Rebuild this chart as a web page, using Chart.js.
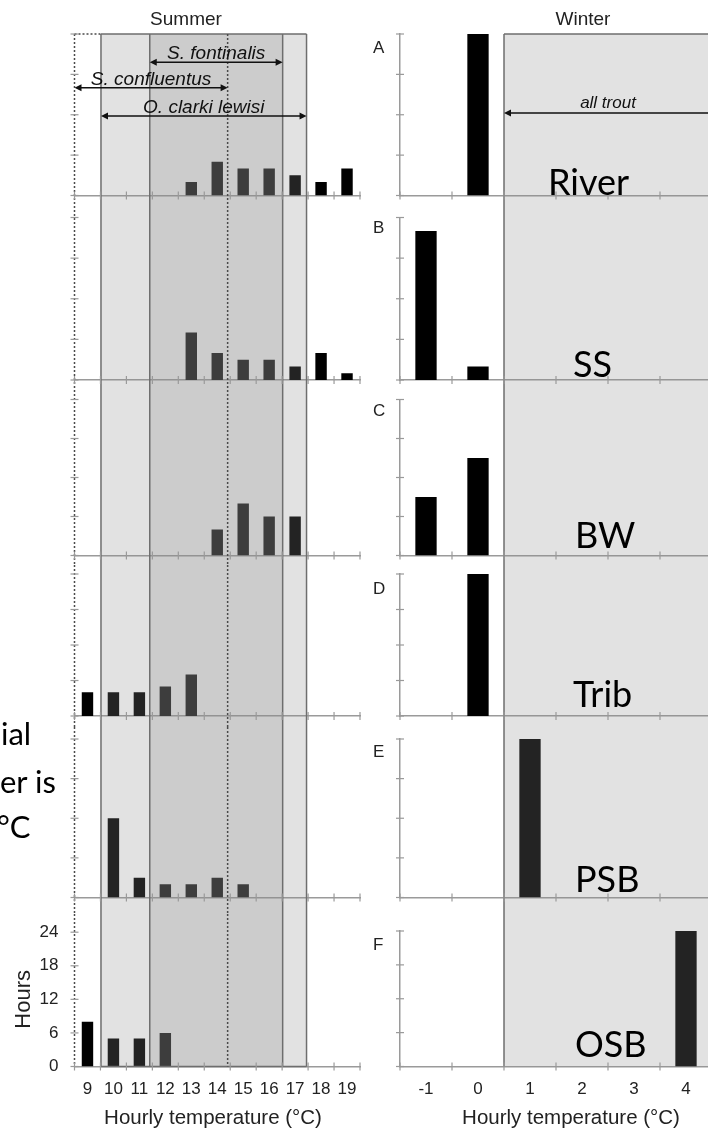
<!DOCTYPE html>
<html>
<head>
<meta charset="utf-8">
<script src="https://cdn.jsdelivr.net/npm/chart.js@4.4.1/dist/chart.umd.min.js"></script>
<style>
  html, body { margin: 0; padding: 0; background: #fff; overflow: hidden; }
  #page { position: relative; width: 708px; height: 1132px; overflow: hidden; background: #fff; }
  #page canvas { position: absolute; }
  .t { position: absolute; white-space: nowrap; line-height: 1; color: #000; }
  .ax { font-family: 'Liberation Sans', Arial, Helvetica, sans-serif; color: #222; }
  .big { font-family: Lato, 'Open Sans', sans-serif; }
</style>
</head>
<body>
<div id="page"></div>
<script>
// ---- data: hours spent at each hourly temperature (one day = 24 h) ----
const summerTemps = ['9', '10', '11', '12', '13', '14', '15', '16', '17', '18', '19'];
const winterTemps = ['-1', '0', '1', '2', '3', '4'];
const sites = ['River', 'SS', 'BW', 'Trib', 'PSB', 'OSB'];
const panelLetters = ['A', 'B', 'C', 'D', 'E', 'F'];
const hourTicks = [0, 6, 12, 18, 24];

const summerRiver = [null, null, null, null, 2, 5, 4, 4, 3, 2, 4];
const summerSS    = [null, null, null, null, 7, 4, 3, 3, 2, 4, 1];
const summerBW    = [null, null, null, null, null, 4, 8, 6, 6, null, null];
const summerTrib  = [4, 4, 4, 5, 7, null, null, null, null, null, null];
const summerPSB   = [null, 12, 3, 2, 2, 3, 2, null, null, null, null];
const summerOSB   = [8, 5, 5, 6, null, null, null, null, null, null, null];

const winterRiver = [null, 24, null, null, null, null];
const winterSS    = [22, 2, null, null, null, null];
const winterBW    = [9, 15, null, null, null, null];
const winterTrib  = [null, 24, null, null, null, null];
const winterPSB   = [null, null, 24, null, null, null];
const winterOSB   = [null, null, null, null, null, 24];

// thermal ranges (°C)
const rangeLewisi = [9.52, 17.44];
const rangeFontinalis = [11.4, 16.52];
const rangeConfluentus = [8.5, 14.4];
const winterTroutMin = 0.5;

const summerSeries = [summerRiver, summerSS, summerBW, summerTrib, summerPSB, summerOSB];
const winterSeries = [winterRiver, winterSS, winterBW, winterTrib, winterPSB, winterOSB];

// ---- layout ----
const AXFONT = "'Liberation Sans', Arial, Helvetica, sans-serif";
const rows = [
  { top: 0,   h: 206, caTop: 34,    caBot: 195.5 },
  { top: 206, h: 184, caTop: 217.5, caBot: 380 },
  { top: 390, h: 175, caTop: 399.5, caBot: 555.5 },
  { top: 565, h: 162, caTop: 574,   caBot: 716 },
  { top: 727, h: 187, caTop: 739,   caBot: 897.5 },
  { top: 914, h: 218, caTop: 931,   caBot: 1066.5 }
];
const summerCol = { left: 0,   w: 372, caLeft: 74.5, caRight: 360 };
const winterCol = { left: 362, w: 360, caLeft: 400,  caRight: 712 };

const SHADE = 'rgba(140,140,140,0.25)';
const EDGE = '#6e6e6e';
const AXIS = '#9a9a9a';

function seg(ctx, x1, y1, x2, y2) {
  ctx.beginPath(); ctx.moveTo(x1, y1); ctx.lineTo(x2, y2); ctx.stroke();
}
function head(ctx, x, y, dir) {
  ctx.beginPath();
  ctx.moveTo(x, y);
  ctx.lineTo(x - dir * 7, y - 3.5);
  ctx.lineTo(x - dir * 7, y + 3.5);
  ctx.closePath();
  ctx.fill();
}
function crossTicks(chart) {
  const { ctx, chartArea: ca, scales: { x, y } } = chart;
  ctx.save();
  ctx.strokeStyle = AXIS; ctx.lineWidth = 1.2;
  const n = chart.data.labels.length;
  for (let i = 0; i <= n; i++) {
    const xp = x.getPixelForValue(i - 0.5);
    seg(ctx, xp, ca.bottom - 4, xp, ca.bottom + 4);
  }
  y.ticks.forEach(t => {
    const yp = y.getPixelForValue(t.value);
    seg(ctx, ca.left - 4, yp, ca.left + 4, yp);
  });
  ctx.restore();
}

// temperature bands, S. confluentus dotted box, and range arrows (summer)
function summerPlugin(r) {
  return {
    id: 'summerRanges',
    afterDatasetsDraw(chart) {
      const { ctx, chartArea: ca, scales: { x } } = chart;
      const top = r === 0 ? ca.top : 0;
      const bot = r === rows.length - 1 ? ca.bottom : chart.height;
      const px = t => x.getPixelForValue(t - 9);
      ctx.save();
      ctx.fillStyle = SHADE;
      [rangeLewisi, rangeFontinalis].forEach(b => ctx.fillRect(px(b[0]), top, px(b[1]) - px(b[0]), bot - top));
      ctx.strokeStyle = EDGE; ctx.lineWidth = 1.5;
      [rangeLewisi[0], rangeLewisi[1], rangeFontinalis[0], rangeFontinalis[1]].forEach(t => seg(ctx, px(t), top, px(t), bot));
      if (r === 0) seg(ctx, px(rangeLewisi[0]), top, px(rangeLewisi[1]), top);
      if (r === rows.length - 1) seg(ctx, px(rangeLewisi[0]), bot, px(rangeLewisi[1]), bot);
      ctx.strokeStyle = '#4a4a4a'; ctx.lineWidth = 1.5; ctx.setLineDash([2, 2]);
      seg(ctx, px(rangeConfluentus[0]), top, px(rangeConfluentus[0]), bot);
      seg(ctx, px(rangeConfluentus[1]), top, px(rangeConfluentus[1]), bot);
      if (r === 0) seg(ctx, px(rangeConfluentus[0]), top, px(rangeLewisi[0]), top);
      ctx.restore();
    },
    afterDraw(chart) {
      crossTicks(chart);
      if (r !== 0) return;
      const { ctx, scales: { x, y } } = chart;
      const px = t => x.getPixelForValue(t - 9);
      const arrows = [
        { name: 'S. fontinalis', range: rangeFontinalis, at: 19.8 },
        { name: 'S. confluentus', range: rangeConfluentus, at: 16.0 },
        { name: 'O. clarki lewisi', range: rangeLewisi, at: 11.8 }
      ];
      ctx.save();
      ctx.strokeStyle = '#111'; ctx.fillStyle = '#111'; ctx.lineWidth = 1.5;
      ctx.font = 'italic 19px ' + AXFONT;
      ctx.textAlign = 'center'; ctx.textBaseline = 'alphabetic';
      arrows.forEach(a => {
        const x1 = px(a.range[0]), x2 = px(a.range[1]), yp = y.getPixelForValue(a.at);
        seg(ctx, x1 + 3, yp, x2 - 3, yp);
        head(ctx, x1, yp, -1);
        head(ctx, x2, yp, 1);
        ctx.fillText(a.name, (x1 + x2) / 2, yp - 3);
      });
      ctx.restore();
    }
  };
}

// winter band where all trout species are within range
function winterPlugin(r) {
  return {
    id: 'winterRange',
    afterDatasetsDraw(chart) {
      const { ctx, chartArea: ca, scales: { x } } = chart;
      const top = r === 0 ? ca.top : 0;
      const bot = r === rows.length - 1 ? ca.bottom : chart.height;
      const x0 = x.getPixelForValue(winterTroutMin + 1);
      ctx.save();
      ctx.fillStyle = SHADE;
      ctx.fillRect(x0, top, chart.width - x0 + 5, bot - top);
      ctx.strokeStyle = EDGE; ctx.lineWidth = 1.5;
      seg(ctx, x0, top, x0, bot);
      if (r === 0) seg(ctx, x0, top, chart.width + 5, top);
      ctx.restore();
    },
    afterDraw(chart) {
      crossTicks(chart);
      if (r !== 0) return;
      const { ctx, scales: { x, y } } = chart;
      const x0 = x.getPixelForValue(winterTroutMin + 1);
      const yp = y.getPixelForValue(12.25);
      ctx.save();
      ctx.strokeStyle = '#111'; ctx.fillStyle = '#111'; ctx.lineWidth = 1.5;
      seg(ctx, x0 + 3, yp, chart.width + 5, yp);
      head(ctx, x0, yp, -1);
      ctx.font = 'italic 17px ' + AXFONT;
      ctx.textAlign = 'center'; ctx.textBaseline = 'alphabetic';
      ctx.fillText('all trout', x.getPixelForValue(2.5 + 1), yp - 5);
      ctx.restore();
    }
  };
}

const page = document.getElementById('page');

function makePanel(col, r, labels, values, isSummer) {
  const row = rows[r];
  const last = r === rows.length - 1;
  const cv = document.createElement('canvas');
  cv.width = col.w; cv.height = row.h;
  cv.style.left = col.left + 'px'; cv.style.top = row.top + 'px';
  page.appendChild(cv);
  const showY = isSummer && last;
  return new Chart(cv, {
    type: 'bar',
    data: {
      labels: labels,
      datasets: [{
        data: values,
        backgroundColor: '#000',
        borderWidth: 0,
        categoryPercentage: 1,
        barPercentage: isSummer ? 0.44 : 0.41
      }]
    },
    options: {
      responsive: false,
      animation: false,
      events: [],
      layout: { padding: { left: 0, right: col.w - (col.caRight - col.left), top: row.caTop - row.top, bottom: 0 } },
      plugins: { legend: { display: false }, tooltip: { enabled: false }, title: { display: false } },
      scales: {
        x: {
          offset: true,
          grid: { display: false },
          border: { display: true, color: AXIS, width: 1.5 },
          ticks: { display: last, color: '#222', font: { family: AXFONT, size: 17 }, padding: 5, maxRotation: 0, autoSkip: false },
          title: { display: false },
          afterFit: s => { s.height = row.top + row.h - row.caBot; }
        },
        y: {
          min: 0, max: 24,
          afterBuildTicks: s => { s.ticks = hourTicks.map(v => ({ value: v })); },
          grid: { display: false },
          border: { display: !isSummer, color: AXIS, width: 1.5 },
          ticks: { display: showY, color: '#222', font: { family: AXFONT, size: 17 }, padding: 8 },
          title: { display: showY, text: 'Hours', color: '#222', font: { family: AXFONT, size: 22 }, padding: { top: 11, bottom: 0 } },
          afterFit: s => { s.width = col.caLeft - col.left; }
        }
      }
    },
    plugins: [isSummer ? summerPlugin(r) : winterPlugin(r)]
  });
}

for (let r = 0; r < rows.length; r++) {
  makePanel(summerCol, r, summerTemps, summerSeries[r], true);
  makePanel(winterCol, r, winterTemps, winterSeries[r], false);
}

// ---- text ----
function addText(txt, cls, style) {
  const d = document.createElement('div');
  d.className = 't ' + cls;
  d.textContent = txt;
  Object.assign(d.style, style);
  page.appendChild(d);
  return d;
}
addText('Summer', 'ax', { left: '86px', width: '200px', textAlign: 'center', top: '9px', fontSize: '19px', color: '#222' });
addText('Winter', 'ax', { left: '483px', width: '200px', textAlign: 'center', top: '9px', fontSize: '19px', color: '#222' });
addText('Hourly temperature (°C)', 'ax', { left: '63px', width: '300px', textAlign: 'center', top: '1107px', fontSize: '20.5px', color: '#222' });
addText('Hourly temperature (°C)', 'ax', { left: '421px', width: '300px', textAlign: 'center', top: '1107px', fontSize: '20.5px', color: '#222' });

const letterBaselines = [53, 233, 416, 594, 757, 950];
panelLetters.forEach((L, i) => {
  addText(L, 'ax', { left: '373px', top: (letterBaselines[i] - 14.4) + 'px', fontSize: '17px', color: '#222' });
});

const siteLabelPos = [[548, 195], [573, 377], [575, 548], [573, 707], [575, 892], [575, 1057]];
sites.forEach((s, i) => {
  addText(s, 'big', { left: siteLabelPos[i][0] + 'px', top: (siteLabelPos[i][1] - 32) + 'px', fontSize: '36px' });
});

[['ial', 1, 745], ['er is', 0, 793], ['°C', -3, 838]].forEach(([s, x, b]) => {
  addText(s, 'big', { left: x + 'px', top: (b - 27.5) + 'px', fontSize: '31px' });
});
</script>
</body>
</html>
